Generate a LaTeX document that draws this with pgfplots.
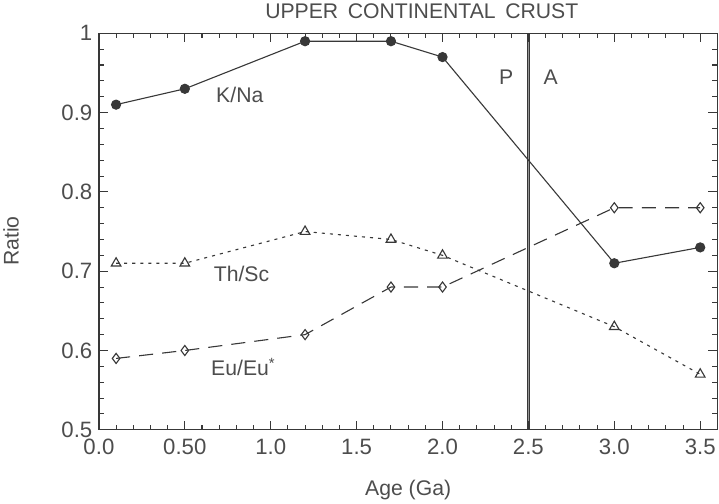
\documentclass[border=0pt]{standalone}
\usepackage{pgfplots}
\pgfplotsset{compat=1.18}
\usepackage{fontspec}
\setmainfont{Liberation Sans}
\definecolor{ink}{RGB}{56,56,56}
\definecolor{txt}{RGB}{77,77,77}
\definecolor{mid}{RGB}{150,150,150}
\begin{document}
\begin{tikzpicture}
\begin{axis}[
  name=ax,
  scale only axis, width=613pt, height=393pt,
  xmin=0, xmax=3.6, ymin=0.5, ymax=1,
  xtick={0,0.5,1,1.5,2,2.5,3,3.5},
  xticklabels={0.0,0.50,1.0,1.5,2.0,2.5,3.0,3.5},
  ytick={0.5,0.6,0.7,0.8,0.9,1},
  yticklabels={0.5,0.6,0.7,0.8,0.9,1},
  minor x tick num=4, minor y tick num=4,
  tick align=inside,
  major tick length=9pt, minor tick length=5pt,
  tick style={color=ink, line width=1pt},
  axis line style={color=ink, line width=1.2pt},
  /pgf/number format/assume math mode=true,
  ticklabel style={font=\fontsize{22}{26}\selectfont, text=txt},
  xticklabel style={yshift=-6pt},
  yticklabel style={xshift=-3pt},
]
\addplot[draw=ink, line width=3.4pt] coordinates {(2.5,0.5) (2.5,1)};
\addplot[draw=mid, line width=1.6pt] coordinates {(2.5,0.5) (2.5,1)};

\addplot[color=ink, line width=1.1pt, mark=*, mark size=4.5pt, mark options={fill=ink}]
  coordinates {(0.1,0.91) (0.5,0.93) (1.2,0.99) (1.7,0.99) (2.0,0.97) (3.0,0.71) (3.5,0.73)};

\addplot[color=ink, line width=1.1pt, dash pattern=on 3pt off 5pt, mark=triangle, mark size=5.5pt, mark options={solid, fill=white}]
  coordinates {(0.1,0.71) (0.5,0.71) (1.2,0.75) (1.7,0.74) (2.0,0.72) (3.0,0.63) (3.5,0.57)};

\addplot[color=ink, line width=1.1pt, dash pattern=on 14pt off 9pt, mark=diamond, mark size=5pt, mark options={solid, fill=white}]
  coordinates {(0.1,0.59) (0.5,0.60) (1.2,0.62) (1.7,0.68) (2.0,0.68) (3.0,0.78) (3.5,0.78)};

\node[font=\fontsize{21}{25}\selectfont, text=txt] at (axis cs:0.82,0.922) {K/Na};
\node[font=\fontsize{21}{25}\selectfont, text=txt] at (axis cs:0.83,0.696) {Th/Sc};
\node[font=\fontsize{21}{25}\selectfont, text=txt] at (axis cs:0.84,0.579) {Eu/Eu\textsuperscript{*}};
\node[font=\fontsize{21}{25}\selectfont, text=txt] at (axis cs:2.37,0.944) {P};
\node[font=\fontsize{21}{25}\selectfont, text=txt] at (axis cs:2.63,0.944) {A};
\end{axis}
\begin{scope}[shift={(ax.south west)}]
  \foreach \i in {1,...,35} {
    \pgfmathsetmacro{\xx}{\i*17.02778}
    \pgfmathsetmacro{\len}{mod(\i,5)==0 ? 9 : 5}
    \draw[ink, line width=1pt] (\xx pt,0pt) -- ++(0pt,\len pt);
    \draw[ink, line width=1pt] (\xx pt,393pt) -- ++(0pt,-\len pt);
  }
  \foreach \j in {1,...,24} {
    \pgfmathsetmacro{\yy}{\j*15.72}
    \pgfmathsetmacro{\len}{mod(\j,5)==0 ? 9 : 5}
    \draw[ink, line width=1pt] (0pt,\yy pt) -- ++(\len pt,0pt);
    \draw[ink, line width=1pt] (613pt,\yy pt) -- ++(-\len pt,0pt);
  }
  \node[font=\fontsize{21}{25}\selectfont, text=txt, anchor=base] at (320pt,408pt) {UPPER\hspace{0.45em}CONTINENTAL\hspace{0.45em}CRUST};
  \node[font=\fontsize{21}{25}\selectfont, text=txt, anchor=base] at (306.5pt,-65pt) {Age (Ga)};
  \node[font=\fontsize{21}{25}\selectfont, text=txt, rotate=90] at (-87pt,187pt) {Ratio};
\end{scope}
\end{tikzpicture}
\end{document}
